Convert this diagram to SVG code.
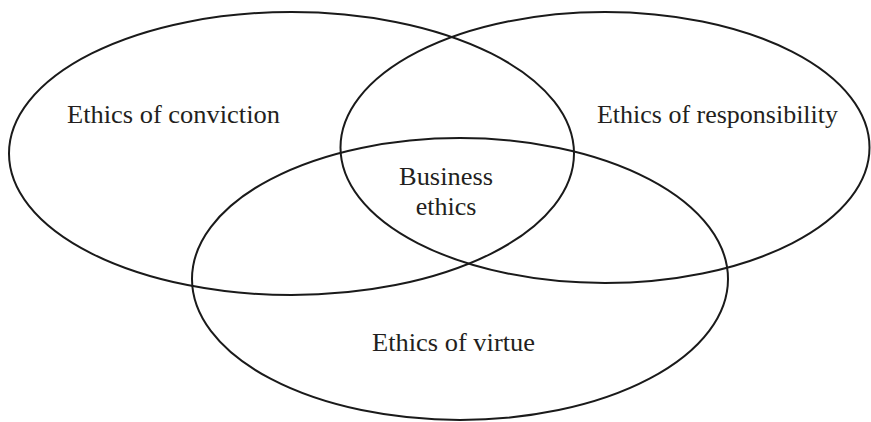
<svg xmlns="http://www.w3.org/2000/svg" width="871" height="422" viewBox="0 0 871 422">
<style>
.set{fill:none;stroke:#1a1a1a;stroke-width:2}
.lbl{font-family:"Liberation Serif","Times New Roman",serif;font-size:26px;fill:#231f20}
</style>
<rect width="871" height="422" fill="#fff"/>
<g id="conviction">
<ellipse class="set" cx="291.5" cy="153.5" rx="282.5" ry="141.5"/>
<text class="lbl" x="67" y="123" textLength="213" lengthAdjust="spacingAndGlyphs">Ethics of conviction</text>
</g>
<g id="responsibility">
<ellipse class="set" cx="605" cy="147.5" rx="264.5" ry="135.5"/>
<text class="lbl" x="597" y="123" textLength="241" lengthAdjust="spacingAndGlyphs">Ethics of responsibility</text>
</g>
<g id="virtue">
<ellipse class="set" cx="460" cy="279" rx="268" ry="141"/>
<text class="lbl" x="372" y="351" textLength="163" lengthAdjust="spacingAndGlyphs">Ethics of virtue</text>
</g>
<g id="business">
<text class="lbl" x="399" y="185" textLength="94" lengthAdjust="spacingAndGlyphs">Business</text>
<text class="lbl" x="446" y="215" text-anchor="middle">ethics</text>
</g>
<g id="connectors"/>
</svg>
